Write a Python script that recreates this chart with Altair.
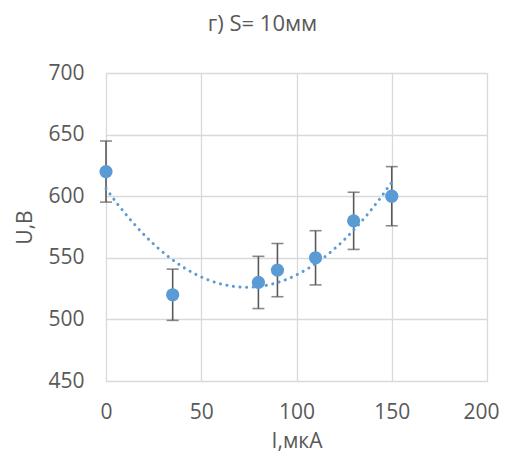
import altair as alt
import pandas as pd

I_vals = [0, 35, 80, 90, 110, 130, 150]
U_vals = [620, 520, 530, 540, 550, 580, 600]
U_err = [24.8, 20.8, 21.2, 21.6, 22.0, 23.2, 24.0]

df = pd.DataFrame({"I": I_vals, "U": U_vals, "err": U_err})
df["lo"] = df["U"] - df["err"]
df["hi"] = df["U"] + df["err"]

FONT = "Open Sans"
GRAY = "#595959"
BLUE = "#5B9BD5"

xs = alt.Scale(domain=[0, 200], nice=False, zero=False)
ys = alt.Scale(domain=[450, 700], nice=False, zero=False)

xax = alt.Axis(values=[0, 50, 100, 150, 200], title="I,мкА", grid=True, ticks=False,
               domain=False, labelPadding=20, titlePadding=8, labelFontSize=21,
               titleFontSize=21, labelFont=FONT, titleFont=FONT, labelColor=GRAY,
               titleColor=GRAY, titleFontWeight="normal", gridColor="#D9D9D9", gridWidth=1.3,
               labelFlush=False, labelOverlap=False,
               labelAlign=alt.ExprRef("datum.value == 200 ? 'right' : 'center'"),
               labelOffset=alt.ExprRef("datum.value == 200 ? 12 : 0"))
yax = alt.Axis(values=[450, 500, 550, 600, 650, 700], title="U,В", grid=True, ticks=False,
               domain=False, labelPadding=22, titlePadding=12, labelFontSize=21,
               titleFontSize=21, labelFont=FONT, titleFont=FONT, labelColor=GRAY,
               titleColor=GRAY, titleFontWeight="normal", gridColor="#D9D9D9", gridWidth=1.3,
               labelFlush=False, labelOverlap=False)

base = alt.Chart(df)

bars = base.mark_rule(color=GRAY, strokeWidth=1.6).encode(
    x=alt.X("I:Q", scale=xs, axis=xax),
    y=alt.Y("lo:Q", scale=ys, axis=yax),
    y2="hi:Q",
)
cap_hi = base.mark_tick(color=GRAY, size=12, thickness=1.6, orient="horizontal").encode(
    x=alt.X("I:Q", scale=xs), y=alt.Y("hi:Q", scale=ys)
)
cap_lo = base.mark_tick(color=GRAY, size=12, thickness=1.6, orient="horizontal").encode(
    x=alt.X("I:Q", scale=xs), y=alt.Y("lo:Q", scale=ys)
)
pts = base.mark_circle(color=BLUE, size=175, opacity=1).encode(
    x=alt.X("I:Q", scale=xs), y=alt.Y("U:Q", scale=ys)
)
trend = base.transform_regression("I", "U", method="poly", order=2).mark_line(
    color=BLUE, strokeWidth=3, strokeDash=[0.1, 6.5], strokeCap="round"
).encode(x=alt.X("I:Q", scale=xs), y=alt.Y("U:Q", scale=ys))

chart = alt.layer(bars, cap_hi, cap_lo, pts, trend).properties(
    width=381,
    height=308,
    title=alt.TitleParams("г) S= 10мм", font=FONT, fontSize=22, color=GRAY,
                          fontWeight="normal", anchor="middle", dx=-34, offset=26),
    autosize=alt.AutoSizeParams(type="none"),
    padding={"left": 98, "top": 65, "right": 12, "bottom": 74},
).configure_view(stroke=None).configure(background="white")

chart.save("out.html", embed_options={"renderer": "svg", "actions": False})
